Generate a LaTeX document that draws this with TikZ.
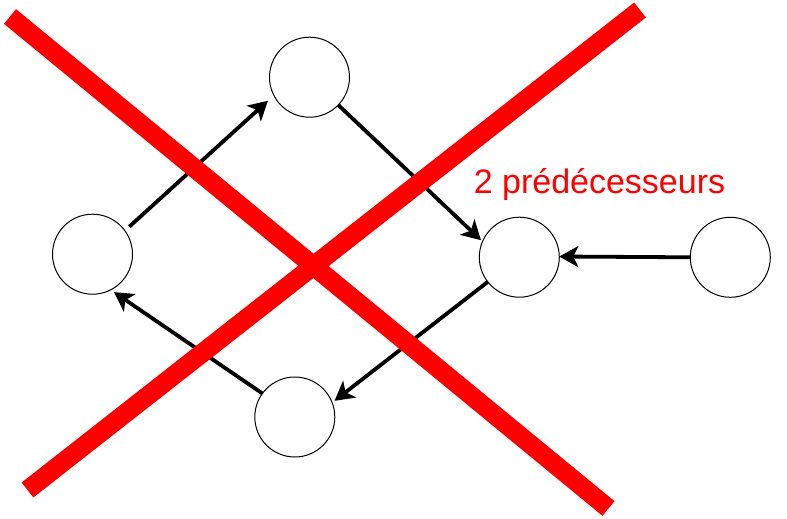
\documentclass[tikz,border=0pt]{standalone}
\usepackage{fontspec}
\setmainfont{Liberation Sans}
\usetikzlibrary{arrows.meta}
\begin{document}
\begin{tikzpicture}[x=1pt,y=-1pt,
  vertex/.style={circle,draw=black,line width=1pt,minimum size=80pt,inner sep=0pt,outer sep=0pt,fill=white},
  arr/.style={draw=black,line width=3.8pt,-{Stealth[length=19pt,width=21pt,inset=5pt]}},
  cross/.style={draw=red,line width=19pt},
  lbl/.style={text=red,font=\fontsize{34}{40}\selectfont,inner sep=0pt,anchor=base}]
\useasboundingbox (0,0) rectangle (787,519);
\node[vertex] (L) at (92.5,254.2) {};
\node[vertex] (T) at (309.5,77.2) {};
\node[vertex] (R) at (519.3,257.2) {};
\node[vertex] (FR) at (730.3,257.3) {};
\node[vertex] (B) at (294.8,417) {};
\draw[arr,shorten <=6pt,shorten >=8pt] (L.36) -- (T.207);
\draw[arr,shorten >=2pt] (T.-44) -- (R.157);
\draw[arr] (FR.180) -- (R.1);
\draw[arr,shorten >=3pt] (R.218) -- (B.21);
\draw[arr,shorten >=4pt] (B.144) -- (L.-63);
\node[lbl] (txt) at (599.5,193) {2 prédécesseurs};
\coordinate (a1) at (10,16.5);
\coordinate (a2) at (608.5,508.5);
\coordinate (b1) at (640,10);
\coordinate (b2) at (27.5,490);
\draw[cross] (a1) -- (a2);
\draw[cross] (b1) -- (b2);
\end{tikzpicture}
\end{document}
